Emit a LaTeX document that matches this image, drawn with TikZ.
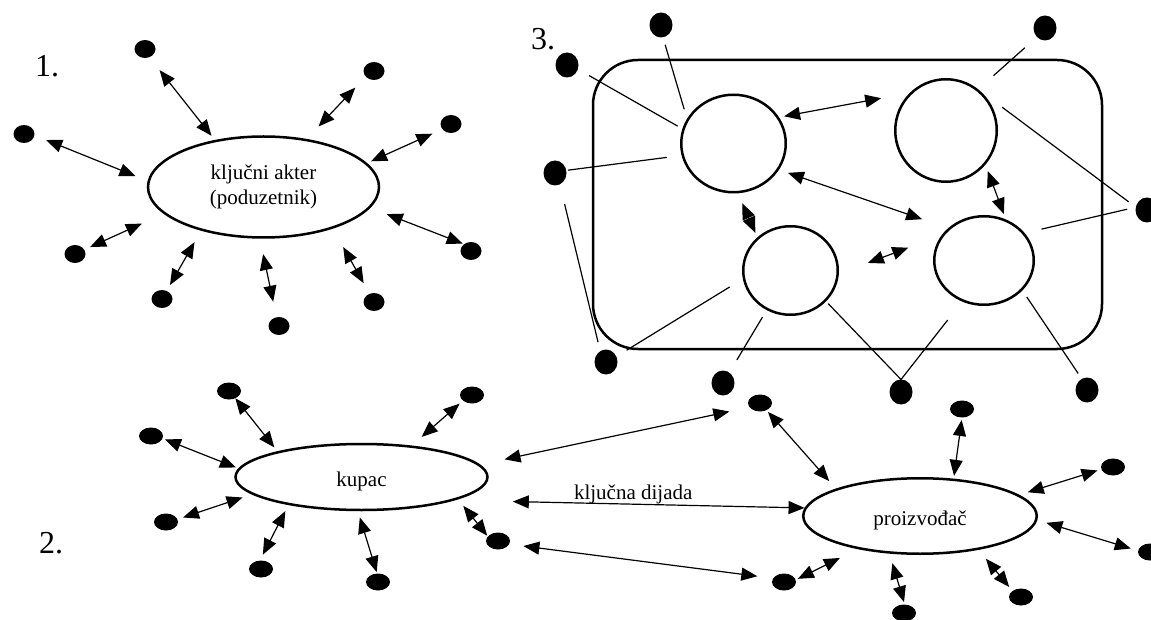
\documentclass[tikz,border=0pt]{standalone}
\usepackage{fontspec}
\setmainfont{Liberation Serif}
\usetikzlibrary{
    arrows.meta,
    shapes.geometric
}

\begin{document}
\begin{tikzpicture}[
    x=1pt, y=-1pt,
    actor/.style={
        ellipse, draw, line width=2.5pt, inner sep=0pt,
        align=center, font=\fontsize{21}{25}\selectfont
    },
    party/.style={
        ellipse, draw, line width=2.5pt, inner sep=0pt,
        text height=19pt, text depth=0pt, font=\fontsize{21}{25}\selectfont
    },
    member/.style={ellipse, draw, line width=2.5pt, inner sep=0pt},
    blob/.style={ellipse, fill, inner sep=0pt, outer sep=0pt, minimum width=21pt, minimum height=18pt},
    blobw/.style={blob, minimum width=24pt, minimum height=17pt},
    blobr/.style={blob, minimum width=23pt, minimum height=25pt},
    link/.style={{Triangle[length=16pt,width=13pt]}-{Triangle[length=16pt,width=13pt]}, line width=1.2pt},
    wire/.style={line width=1.2pt},
    num/.style={anchor=base west, inner sep=0pt, font=\fontsize{32}{36}\selectfont},
    lbl/.style={inner sep=0pt, font=\fontsize{21}{25}\selectfont}
]
\useasboundingbox (0,0) rectangle (1151,620);

% 1. key actor with its partners
\node[num] (n1) at (35,77) {1.};
\node[actor, minimum width=231pt, minimum height=101pt] (actor) at (263.5,187) {ključni akter\\(poduzetnik)};

\node[blob] (d1) at (145,49) {};
\node[blob] (d2) at (374,71) {};
\node[blob] (d3) at (24,134) {};
\node[blob] (d4) at (451,124) {};
\node[blob] (d5) at (75,254) {};
\node[blob] (d6) at (471,251) {};
\node[blob] (d7) at (162,299) {};
\node[blob] (d8) at (374,302) {};
\node[blob] (d9) at (279,326) {};

\draw[link, shorten <=16.5pt, shorten >=5.3pt] (d1.298) -- (actor.136);
\draw[link, shorten <=15.2pt, shorten >=17.1pt] (d2.214) -- (actor.48);
\draw[link, shorten <=12.7pt, shorten >=13.1pt] (d3.353) -- (actor.177);
\draw[link, shorten <=11pt, shorten >=4.4pt] (d4.211) -- (actor.13);
\draw[link, shorten <=6.4pt, shorten >=23.8pt] (d5.25) -- (actor.195);
\draw[link, shorten <=1.6pt, shorten >=17.5pt] (d6.135) -- (actor.349);
\draw[link, shorten <=6.8pt, shorten >=13.1pt] (d7.60) -- (actor.215);
\draw[link, shorten <=12.2pt, shorten >=21.1pt] (d8.118) -- (actor.329);
\draw[link, shorten <=15.9pt, shorten >=15.7pt] (d9.106) -- (actor.266);

% 2. the key dyad
\node[num] (n2) at (39,553) {2.};
\node[party, minimum width=252pt, minimum height=66pt] (kupac) at (361.5,477) {kupac};
\node[party, minimum width=233.5pt, minimum height=75.5pt] (prod) at (920,516) {proizvođač};

\node[blobw] (k1) at (229,391) {};
\node[blobw] (k2) at (151,436) {};
\node[blobw] (k3) at (166,522) {};
\node[blobw] (k4) at (261,569) {};
\node[blobw] (k5) at (378,582) {};
\node[blobw] (k6) at (472,395) {};
\node[blobw] (k7) at (498,541) {};

\node[blobw] (p1) at (760,403) {};
\node[blobw] (p2) at (962,409) {};
\node[blobw] (p3) at (1113,467) {};
\node[blobw] (p4) at (1150,552) {};
\node[blobw] (p5) at (1021,597) {};
\node[blobw] (p6) at (904,613) {};
\node[blobw] (p7) at (784,582) {};

\draw[link, shorten >=4.9pt] (k1.311) -- (kupac.163);
\draw[link, shorten <=2.6pt, shorten >=2.6pt] (k2.348) -- (kupac.176);
\draw[link, shorten <=5.9pt, shorten >=9.8pt] (k3.13) -- (kupac.189);
\draw[link, shorten <=6.6pt, shorten >=6.8pt] (k4.98) -- (kupac.201);
\draw[link, shorten <=1.5pt, shorten >=6.5pt] (k5.96) -- (kupac.264);
\draw[link, shorten <=4.6pt, shorten >=13.1pt] (k6.212) -- (kupac.32);
\draw[link, shorten <=1pt, shorten >=8.4pt] (k7.156) -- (kupac.347);

\draw[link, shorten <=25pt, shorten >=20.7pt] (kupac.6) -- (p1.202);
\draw[link, shorten <=58pt] (kupac.346) -- node[lbl, pos=0.51, above] {ključna dijada} (prod.176);
\draw[link, shorten <=14.4pt, shorten >=16pt] (k7.344) -- (p7.161);

\draw[link, shorten <=2.3pt, shorten >=10.1pt] (p1.312) -- (prod.162);
\draw[link, shorten <=2.5pt, shorten >=2.8pt] (p2.270) -- (prod.48);
\draw[link, shorten <=4.1pt, shorten >=8.9pt] (p3.191) -- (prod.12);
\draw[link, shorten <=7.7pt, shorten >=9.4pt] (p4.174) -- (prod.358);
\draw[link, shorten <=5.2pt, shorten >=11.5pt] (p5.145) -- (prod.330);
\draw[link, shorten <=2.5pt, shorten >=9.9pt] (p6.85) -- (prod.231);
\draw[link, shorten <=2.5pt, shorten >=19.9pt] (p7.10) -- (prod.208);

% 3. network of firms
\node[num] (n3) at (531,50) {3.};
\node[draw, line width=2.5pt, rounded corners=45pt, minimum width=509pt, minimum height=289pt] (frame) at (847.5,204.5) {};

\node[member, minimum width=104.5pt, minimum height=97.5pt] (c1) at (733.5,143.5) {};
\node[member, minimum width=101.5pt, minimum height=102.5pt] (c2) at (946,130.5) {};
\node[member, minimum width=94.5pt, minimum height=88.5pt] (c3) at (790.5,270.5) {};
\node[member, minimum width=99.5pt, minimum height=88.5pt] (c4) at (984,260.5) {};

\node[blobr] (q1) at (661,25) {};
\node[blobr] (q2) at (567,65) {};
\node[blobr] (q3) at (555,173) {};
\node[blobr] (q4) at (606,362) {};
\node[blobr] (q5) at (723,383) {};
\node[blobr] (q6) at (901,392) {};
\node[blobr] (q7) at (1087,390) {};
\node[blobr] (q8) at (1045,28) {};
\node[blobr] (q9) at (1147,210) {};

\draw[link, shorten <=5.1pt, shorten >=29pt] (c1.30) -- (c2.134);
\draw[link, shorten <=9.4pt, shorten >=27.5pt] (c1.330) -- (c4.138);
\draw[link, shorten <=6.7pt, shorten >=5.7pt] (c2.319) -- (c4.62);
\draw[link, shorten <=10.8pt, shorten >=4.8pt] (c1.275) -- (c3.135);
\draw[link, shorten <=31pt, shorten >=35.7pt] (c3.356) -- (c4.149);

\draw[wire, shorten <=7.8pt, shorten >=9.9pt] (q1.279) -- (c1.152);
\draw[wire, shorten <=12.9pt, shorten >=5.4pt] (q2.339) -- (c1.164);
\draw[wire, shorten <=1.7pt, shorten >=14.9pt] (q3.13) -- (c1.193);
\draw[wire, shorten <=20.4pt, shorten >=9.3pt] (q3.293) -- (q4.118);
\draw[wire, shorten <=12pt, shorten >=15.4pt] (q4.28) -- (c3.190);
\draw[wire, shorten <=14.7pt, shorten >=8.1pt] (q5.59) -- (c3.239);
\draw[wire, shorten >=3pt] (q6.90) -- (c3.319);
\draw[wire, shorten >=23.5pt] (q6.90) -- (c4.242);
\draw[wire, shorten <=6.5pt, shorten >=7.8pt] (q7.115) -- (c4.322);
\draw[wire, shorten <=16.3pt, shorten >=20.5pt] (q8.228) -- (c2.52);
\draw[wire, shorten <=8.9pt, shorten >=30pt] (q9.166) -- (c2.52);
\draw[wire, shorten <=8.9pt, shorten >=17.2pt] (q9.166) -- (c4.34);

\end{tikzpicture}
\end{document}
